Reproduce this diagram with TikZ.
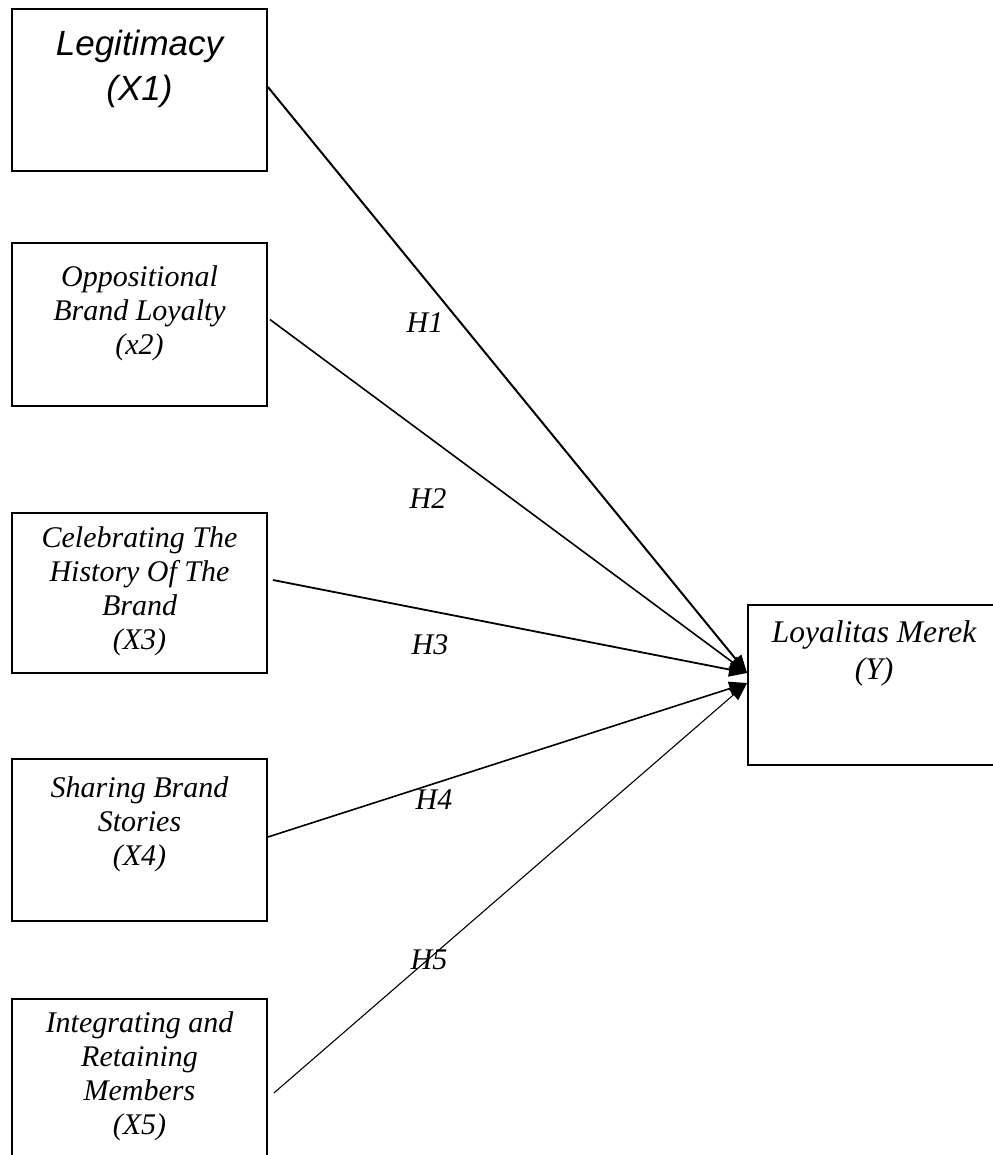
\documentclass[tikz,border=0pt]{standalone}
\usepackage{fontspec}
\setmainfont{Liberation Serif}
\newfontfamily\legfont{Liberation Sans}
\usetikzlibrary{arrows.meta, positioning}
\definecolor{pathLine}{HTML}{000000}

\begin{document}
\begin{tikzpicture}[x=1pt, y=-1pt,
    varbox/.style={draw, line width=1.8pt, minimum width=255pt, inner sep=0pt},
    vartext/.style={align=center, inner sep=0pt, font=\itshape\fontsize{30}{34}\selectfont},
    hlabel/.style={inner sep=0pt, font=\itshape\fontsize{30}{36}\selectfont},
    hyp/.style={pathLine, -{Triangle[length=18pt,width=14pt]}}]
    \useasboundingbox (0,0) rectangle (992,1155);

    \node[varbox, minimum height=162pt] (b1) at (139.5,90) {};
    \node[varbox, minimum height=163pt] (b2) at (139.5,324.5) {};
    \node[varbox, minimum height=160pt] (b3) at (139.5,593) {};
    \node[varbox, minimum height=162pt] (b4) at (139.5,840) {};
    \node[varbox, minimum height=188pt] (b5) at (139.5,1093) {};
    \node[varbox, minimum width=252pt, minimum height=160pt] (Y) at (874,685) {};

    \node[align=center, inner sep=0pt, font=\legfont\itshape\fontsize{35}{45}\selectfont,
        below=22pt of b1.north] (t1) {Legitimacy\\(X1)};
    \node[vartext, below=23pt of b2.north] (t2) {Oppositional\\Brand Loyalty\\(x2)};
    \node[vartext, below=14pt of b3.north] (t3) {Celebrating The\\History Of The\\Brand\\(X3)};
    \node[vartext, below=18pt of b4.north] (t4) {Sharing Brand\\Stories\\(X4)};
    \node[vartext, below=13pt of b5.north] (t5) {Integrating and\\Retaining\\Members\\(X5)};
    \node[vartext, font=\itshape\fontsize{31.5}{37}\selectfont,
        below=16pt of Y.north] (tY) {Loyalitas Merek\\(Y)};

    \coordinate (tipA) at ([yshift=12pt]Y.west);
    \coordinate (tipB) at ([yshift=2pt]Y.west);

    \draw[hyp, line width=2pt] ([yshift=3pt]b1.east) -- (tipA);
    \draw[hyp, line width=1.6pt] ([xshift=2pt,yshift=5pt]b2.east) -- (tipA);
    \draw[hyp, line width=1.8pt] ([xshift=5pt,yshift=13pt]b3.east) -- (tipA);
    \draw[hyp, line width=1.6pt] ([yshift=3pt]b4.east) -- (tipB);
    \draw[hyp, line width=1.1pt] ([xshift=6pt]b5.east) -- (tipB);

    \foreach \n/\x/\y in {1/425/323, 2/428/499, 3/430/645, 4/434/800, 5/429/960}
        \node[hlabel] (h\n) at (\x,\y) {H\n};
\end{tikzpicture}
\end{document}
